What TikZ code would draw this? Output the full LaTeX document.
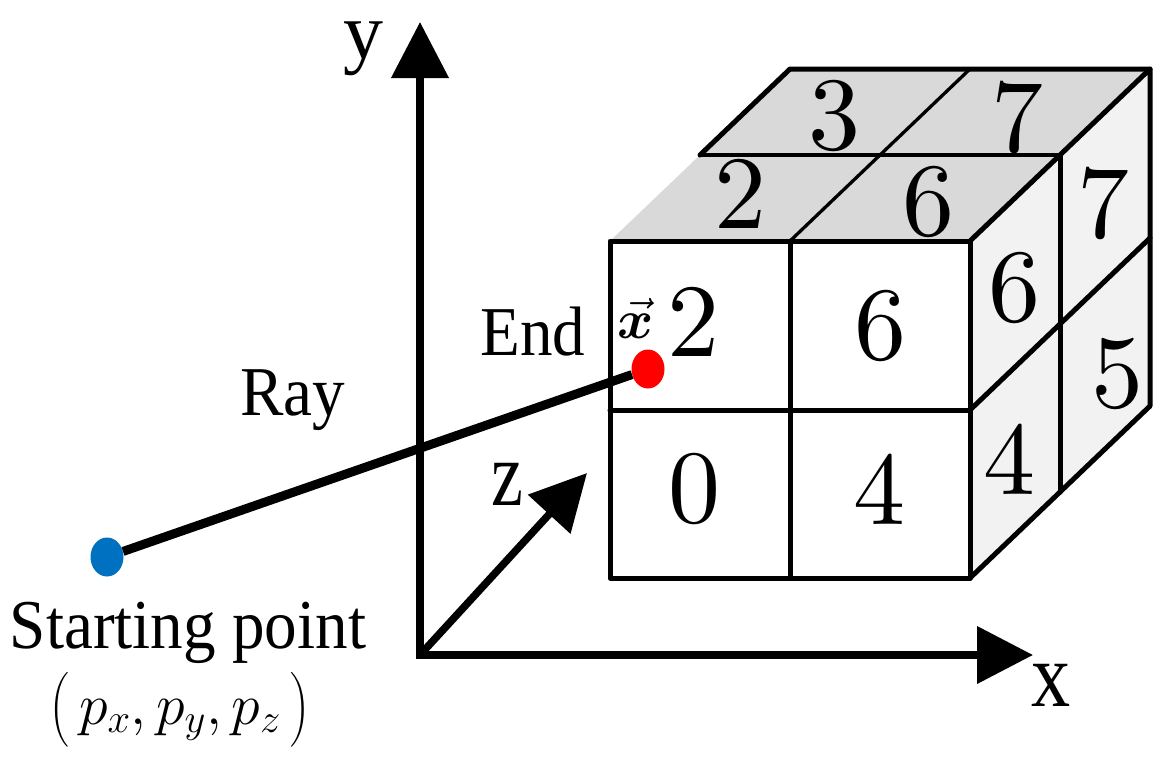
\RequirePackage{fix-cm}
\documentclass[tikz,border=0pt]{standalone}
\usepackage{exscale}
\usepackage{fontspec}
\usepackage{bm}
\newfontfamily\tnr{Liberation Serif}
\newfontfamily\digitfont{lmroman10-regular}[Extension=.otf]
\usetikzlibrary{arrows.meta,shapes.geometric}
\definecolor{topgray}{HTML}{D9D9D9}
\definecolor{sidegray}{HTML}{F2F2F2}
\definecolor{startblue}{HTML}{0070C0}
\definecolor{endred}{HTML}{FF0000}
\newcommand{\xvecsym}{\ensuremath{\vec{\bm{x}}}}
\newcommand{\pcoords}{\ensuremath{\left(\vphantom{\vrule height 51pt depth 21pt}\,p_x, p_y, p_z\,\right)}}
\tikzset{
  bigtip/.tip={Triangle[length=56pt,width=56pt]},
  axisline/.style={line width=7.5pt, line join=miter},
  cubeedge/.style={line width=5pt, line join=round, line cap=round},
  cubethin/.style={line width=3.3pt, line cap=round},
  digit/.style={font=\digitfont\fontsize{104}{104}\selectfont, inner sep=0pt},
  lbl/.style={font=\tnr\fontsize{70}{70}\selectfont, xscale=0.93, inner sep=0pt, anchor=base},
  axlbl/.style={font=\tnr\fontsize{#1}{#1}\selectfont, inner sep=0pt, anchor=base},
  mathlbl/.style={font=\fontsize{#1}{#1}\selectfont, inner sep=0pt, anchor=base},
  dot/.style={ellipse, inner sep=0pt, minimum width=33pt, minimum height=39pt, fill=#1},
  raystyle/.style={line width=9pt}
}
\begin{document}
\begin{tikzpicture}[x=1pt,y=-1pt]
\useasboundingbox (0,0) rectangle (1164,758);

% axes
\coordinate (O) at (420,655);
\coordinate (ytip) at (420,22);
\coordinate (xtip) at (1033,655);
\coordinate (ztip) at (587,473);
\draw[axisline, {bigtip}-{bigtip}] (ytip) -- (O) -- (xtip);
\draw[axisline, -{bigtip}] (O) -- (ztip);
\node[axlbl=80] (ylab) at (363,58) {y};
\node[axlbl=92, xscale=0.85] (xlab) at (1051,706) {x};
\node[axlbl=92, xscale=0.78] (zlab) at (507,505) {z};

% cube faces
\fill[topgray] (610,241) -- (970,241) -- (1150,69) -- (790,69) -- cycle;
\fill[sidegray] (970,241) -- (1150,69) -- (1150,406) -- (970,578) -- cycle;
\fill[white] (610,241) rectangle (970,578);

% top face lines
\draw[cubethin] (700,155) -- (1060,155);
\draw[cubethin] (790,241) -- (880,155) -- (970,69);
\draw[cubeedge] (700,155) -- (790,69) -- (1150,69);
% right face lines
\draw[cubeedge] (970,241) -- (1150,69) -- (1150,406) -- (970,578);
\draw[cubeedge] (1060,155) -- (1060,492);
\draw[cubeedge] (970,410) -- (1150,238);
% front face lines
\draw[cubeedge] (610,241) rectangle (970,578);
\draw[cubeedge] (790,241) -- (790,578);
\draw[cubeedge] (610,410) -- (970,410);

% cube numbers
\node[digit] (f2) at (693,322) {2};
\node[digit] (f6) at (880,326) {6};
\node[digit] (f0) at (694,489) {0};
\node[digit] (f4) at (879,489) {4};
\node[digit] (t2) at (740,194) {2};
\node[digit] (t6) at (928,202) {6};
\node[digit] (t3) at (834,116) {3};
\node[digit] (t7) at (1017,117) {7};
\node[digit] (r6) at (1014,288) {6};
\node[digit] (r7) at (1103,203) {7};
\node[digit] (r4) at (1009,459) {4};
\node[digit] (r5) at (1117,374) {5};

% ray
\node[dot=startblue] (startdot) at (107,557) {};
\node[dot=endred] (enddot) at (648,369) {};
\draw[raystyle] (startdot) -- (enddot);

% labels
\node[lbl] (raylab) at (293,415) {Ray};
\node[lbl] (endlab) at (533,355) {End};
\node[lbl] (startlab) at (188,648) {Starting point};
\node[mathlbl=55] (xveclab) at (636,338) {\xvecsym};
\node[mathlbl=58] (coordlab) at (180,724) {\pcoords};
\end{tikzpicture}
\end{document}
